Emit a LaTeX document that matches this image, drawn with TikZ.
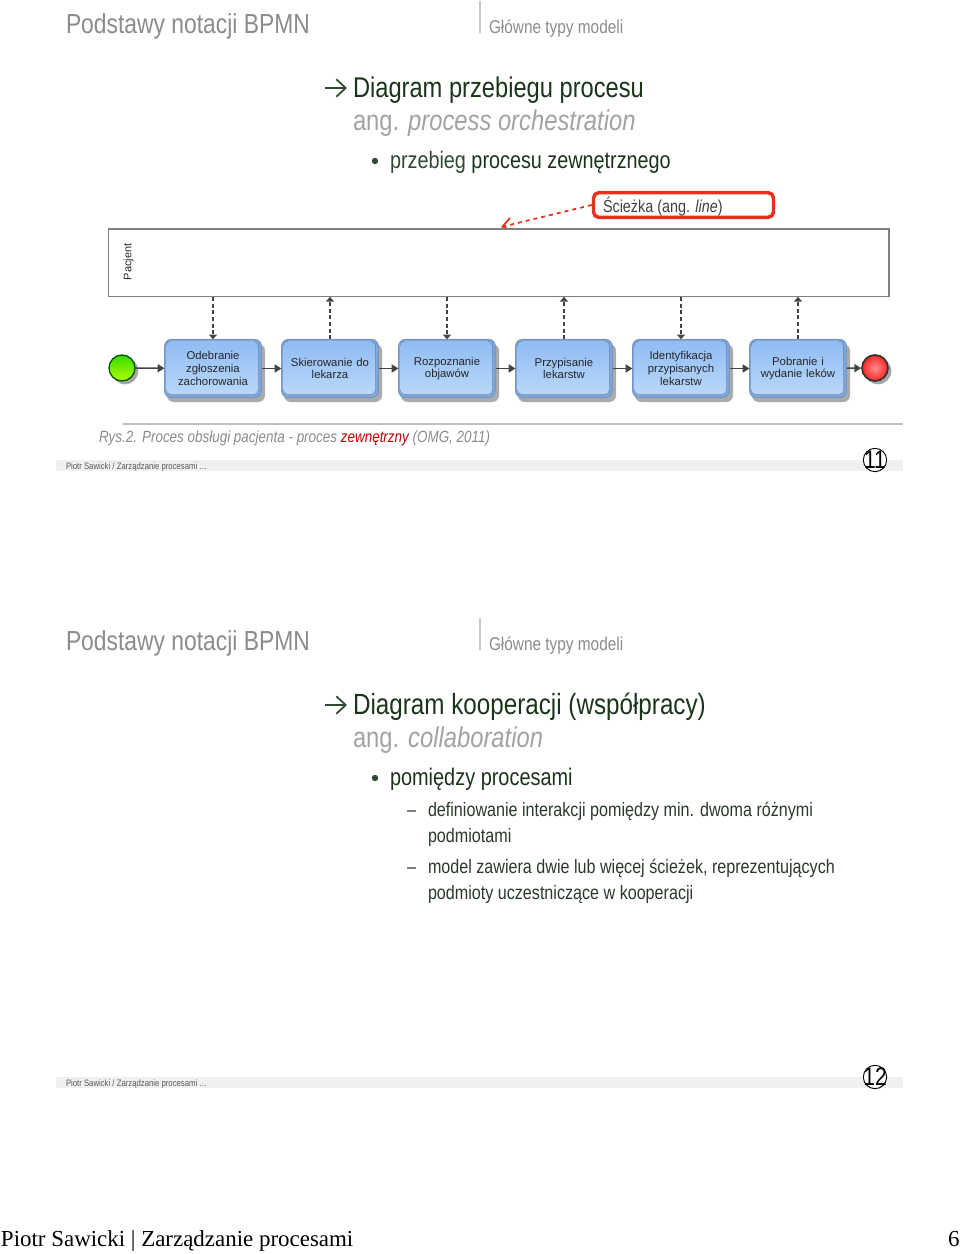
\documentclass[tikz,border=0pt]{standalone}
\usepackage{fontspec}
\setmainfont[FakeStretch=0.83]{Liberation Sans}
\newfontfamily\arialf{Liberation Sans}
\newfontfamily\timesf{Liberation Serif}
\usetikzlibrary{arrows.meta,calc}
\definecolor{titlegray}{HTML}{8C8C8C}
\definecolor{darkgreen}{HTML}{1A351A}
\definecolor{midgreen}{HTML}{2F4A30}
\definecolor{bodygreen}{HTML}{2B3B2B}
\definecolor{anggray}{HTML}{A3A3A3}
\definecolor{flow}{HTML}{444444}
\definecolor{boxedge}{HTML}{7A96BB}
\definecolor{boxtop}{HTML}{8FBCF2}
\definecolor{boxbot}{HTML}{B9D8FB}
\definecolor{bevel}{HTML}{7FA8E0}
\definecolor{redc}{HTML}{E8301C}
\tikzset{
  x=0.75pt,y=-0.75pt,
  txt/.style={anchor=base west,inner sep=0pt,outer sep=0pt},
  taskshape/.style={rounded corners=5pt,minimum width=72.5pt,minimum height=43.5pt,inner sep=0pt},
  tasktext/.style={minimum width=72.5pt,minimum height=43.5pt,text width=72pt,align=center,font=\arialf\fontsize{8.5}{9.6}\selectfont,inner sep=0pt,text=black!85},
  flowarrow/.style={draw=flow,line width=1.1pt,-{Triangle[length=5pt,width=6pt]}},
  msgarrow/.style={draw=flow,line width=0.8pt,densely dashed,-{Triangle[length=3.5pt,width=6pt]}},
}
\newcommand{\slidehead}[1]{%
  \node[txt,text=titlegray,font=\fontsize{20.65}{24}\selectfont] at (66,#1+33) {Podstawy notacji BPMN};
  \draw[draw=black!22,line width=0.8pt] (480,#1+1) -- (480,#1+33);
  \node[txt,text=titlegray,font=\fontsize{13.9}{16}\selectfont] at (489,#1+33) {Główne typy modeli};
}
\newcommand{\slidefoot}[2]{%
  \fill[black!6] (56,#1+460) rectangle (903,#1+471);
  \node[txt,text=black!65,font=\fontsize{7}{9}\selectfont] at (66,#1+469) {Piotr Sawicki / Zarządzanie procesami \dots};
  \node[draw=black,circle,inner sep=0pt,minimum size=17.5pt,line width=0.7pt,fill=white] (num#2) at (875,#1+460) {};
  \node[inner sep=0pt,font=\fontsize{19}{20}\selectfont] (numtxt#2) at (num#2.center) {#2};
}
\begin{document}
\begin{tikzpicture}
\useasboundingbox (0,0) rectangle (960,1254);
\fill[white] (0,0) rectangle (960,1254);
% slide 1
\slidehead{0}
\draw[draw=midgreen,line width=1.3pt,-{Straight Barb[length=7pt,width=13pt]}] (325,88) -- (347,88);
\node[txt,text=darkgreen,font=\fontsize{21.4}{25}\selectfont] at (353,97) {Diagram przebiegu procesu};
\node[txt,text=anggray,font=\fontsize{21.5}{25}\selectfont] at (353,130) {ang. \textit{process orchestration}};
\fill[midgreen] (375,161) circle (2.4pt);
\node[txt,text=midgreen,font=\fontsize{17.9}{20}\selectfont] at (390,168) {przebieg \textcolor{darkgreen}{procesu zewnętrznego}};
% callout
\node[draw=redc,line width=2.6pt,rounded corners=4pt,minimum width=135pt,minimum height=18.5pt,inner sep=0pt] (callout) at (683.5,205) {};
\node[txt,text=black!75,font=\fontsize{13}{17}\selectfont] (calltext) at (603,212) {Ścieżka (ang. \textit{line})};
\coordinate (calltip) at (501,227);
\draw[draw=redc,line width=1.3pt,dashed,-{Straight Barb[length=7pt,width=10pt]}] (callout.west) -- (calltip);
% pool
\node[draw=black!50,line width=1pt,minimum width=585.5pt,minimum height=50.5pt,inner sep=0pt,fill=white] (pool) at (498.5,262.5) {};
\node[font=\arialf\fontsize{8.2}{10}\selectfont,rotate=90,text=black!85,inner sep=0pt] (pooltxt) at (128.5,262) {Pacjent};
% events
\fill[black!35] (125,371) circle (10pt);
\node[circle,draw=green!35!black,line width=1pt,top color=green!75!yellow!85!black,bottom color=yellow!70!green,minimum size=19.5pt,inner sep=0pt] (st) at (122,368) {};
\fill[black!35] (878,371) circle (10pt);
\node[circle,draw=black!80,line width=1.3pt,inner color=red!45!white,outer color=red!85,minimum size=19.5pt,inner sep=0pt] (en) at (875,368) {};
% tasks
\foreach \nm/\cx/\lab in {a/213/{Odebranie\\zgłoszenia\\zachorowania},b/330/{Skierowanie do\\lekarza},c/447/{Rozpoznanie\\objawów},d/564/{Przypisanie\\lekarstw},e/681/{Identyfikacja\\przypisanych\\lekarstw},f/798/{Pobranie i\\wydanie leków}}{
  \fill[black!33,rounded corners=5pt] (\cx-46,344) rectangle (\cx+52,402);
  \node[taskshape,draw=boxedge,line width=0.8pt,fill=bevel] (\nm-bg) at (\cx,368.5) {};
  \fill[top color=boxtop,bottom color=boxbot,rounded corners=4pt] (\cx-47,341) rectangle (\cx+45.5,394.5);
  \node[tasktext] (\nm) at (\cx,368.5) {\lab};
}
\draw[flowarrow] (st) -- (a);
\draw[flowarrow] (a) -- (b);
\draw[flowarrow] (b) -- (c);
\draw[flowarrow] (c) -- (d);
\draw[flowarrow] (d) -- (e);
\draw[flowarrow] (e) -- (f);
\draw[flowarrow] (f) -- (en);
\draw[msgarrow] (pool.south -| a.north) -- (a.north);
\draw[msgarrow] (b.north) -- (pool.south -| b.north);
\draw[msgarrow] (pool.south -| c.north) -- (c.north);
\draw[msgarrow] (d.north) -- (pool.south -| d.north);
\draw[msgarrow] (pool.south -| e.north) -- (e.north);
\draw[msgarrow] (f.north) -- (pool.south -| f.north);
% caption
\draw[draw=black!25,line width=0.8pt] (123,424) -- (903,424);
\node[txt,text=titlegray,font=\fontsize{12.15}{15}\selectfont\itshape] at (99,442) {Rys.2. Proces obsługi pacjenta - proces \textcolor{red!75!black}{zewnętrzny} (OMG, 2011)};
\slidefoot{0}{11}
% slide 2
\slidehead{617}
\draw[draw=midgreen,line width=1.3pt,-{Straight Barb[length=7pt,width=13pt]}] (325,705) -- (347,705);
\node[txt,text=darkgreen,font=\fontsize{21.9}{25}\selectfont] at (353,714) {Diagram kooperacji (współpracy)};
\node[txt,text=anggray,font=\fontsize{21.5}{25}\selectfont] at (353,747) {ang. \textit{collaboration}};
\fill[midgreen] (375,778) circle (2.4pt);
\node[txt,text=darkgreen,font=\fontsize{18}{20}\selectfont] at (390,785) {pomiędzy procesami};
\draw[black!50,line width=0.8pt] (407,811) -- (416,811);
\node[txt,text=bodygreen,font=\fontsize{14.57}{17}\selectfont] at (428,816) {definiowanie interakcji pomiędzy min. dwoma różnymi};
\node[txt,text=bodygreen,font=\fontsize{14.57}{17}\selectfont] at (428,842) {podmiotami};
\draw[black!50,line width=0.8pt] (407,868) -- (416,868);
\node[txt,text=bodygreen,font=\fontsize{14.57}{17}\selectfont] at (428,873) {model zawiera dwie lub więcej ścieżek, reprezentujących};
\node[txt,text=bodygreen,font=\fontsize{14.57}{17}\selectfont] at (428,899) {podmioty uczestniczące w kooperacji};
\slidefoot{617}{12}
% page footer
\node[txt,font=\timesf\fontsize{17.2}{20}\selectfont] at (1,1246) {Piotr Sawicki | Zarządzanie procesami};
\node[txt,font=\timesf\fontsize{17.2}{20}\selectfont] at (948,1246) {6};
\end{tikzpicture}
\end{document}
